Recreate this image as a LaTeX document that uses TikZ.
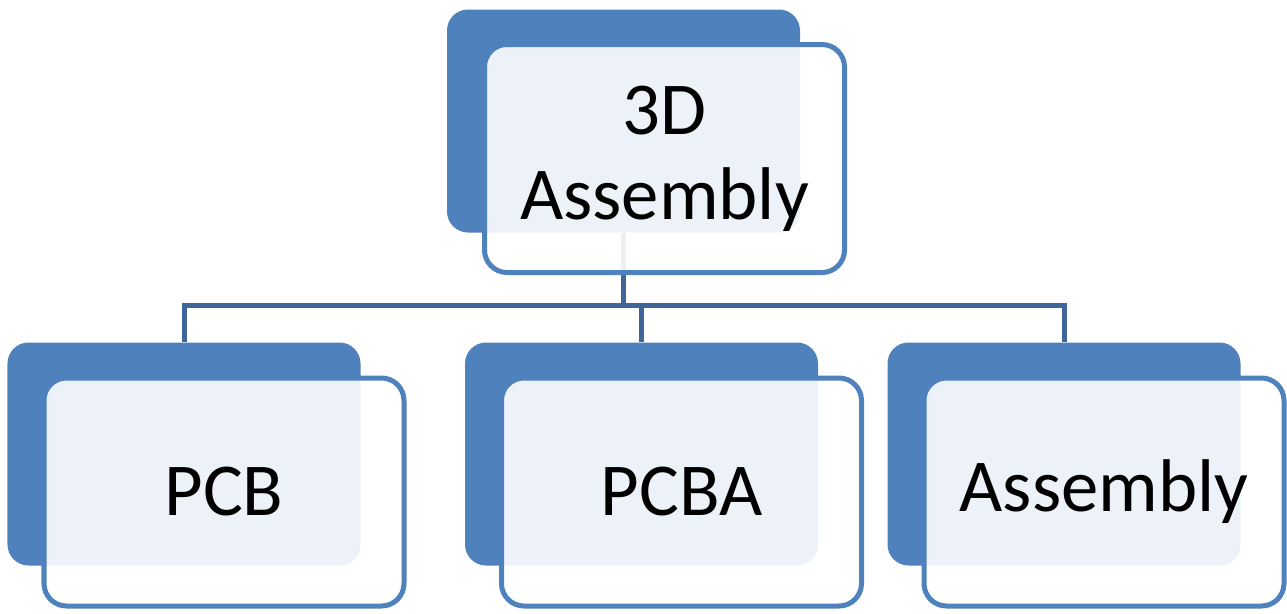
\documentclass[tikz,border=0pt]{standalone}
\usepackage{fontspec}
\setmainfont{Carlito}
\definecolor{boxblue}{RGB}{79,129,189}
\definecolor{linkblue}{RGB}{62,102,152}
\begin{document}
\begin{tikzpicture}[
		darkbox/.style={fill=boxblue, rounded corners=0.42cm, minimum width=7.06cm, minimum height=4.46cm, inner sep=0pt},
		lightbox/.style={draw=boxblue, line width=0.1cm, fill=white, fill opacity=0.9, text opacity=1, rounded corners=0.45cm, minimum width=7.2cm, minimum height=4.56cm, inner sep=0pt, align=center, font=\fontsize{42.5}{48.5}\selectfont},
		link/.style={draw=linkblue, line width=0.1cm}
	]
		\useasboundingbox (0, 0) rectangle (25.74, -12.26);
		\node[darkbox] (topd) at (12.47, -2.42) {};
		\node[darkbox] (pcbd) at (3.68, -9.08) {};
		\node[darkbox] (pcbad) at (12.83, -9.08) {};
		\node[darkbox] (asmd) at (21.28, -9.08) {};
		\coordinate (bus) at (0, -6.1);
		\draw[link] (topd.south) -- (topd.south |- bus);
		\draw[link] (pcbd.north) |- (asmd.north |- bus) -- (asmd.north);
		\draw[link] (pcbad.north) -- (pcbad.north |- bus);
		\node[lightbox] (top) at ([shift={(0.82, -0.75)}]topd.center) {3D\\Assembly};
		\node[lightbox] (pcb) at ([shift={(0.8, -0.76)}]pcbd.center) {PCB};
		\node[lightbox] (pcba) at ([shift={(0.8, -0.76)}]pcbad.center) {PCBA};
		\node[lightbox] (asm) at ([shift={(0.8, -0.76)}]asmd.center) {Assembly};
	\end{tikzpicture}
\end{document}
